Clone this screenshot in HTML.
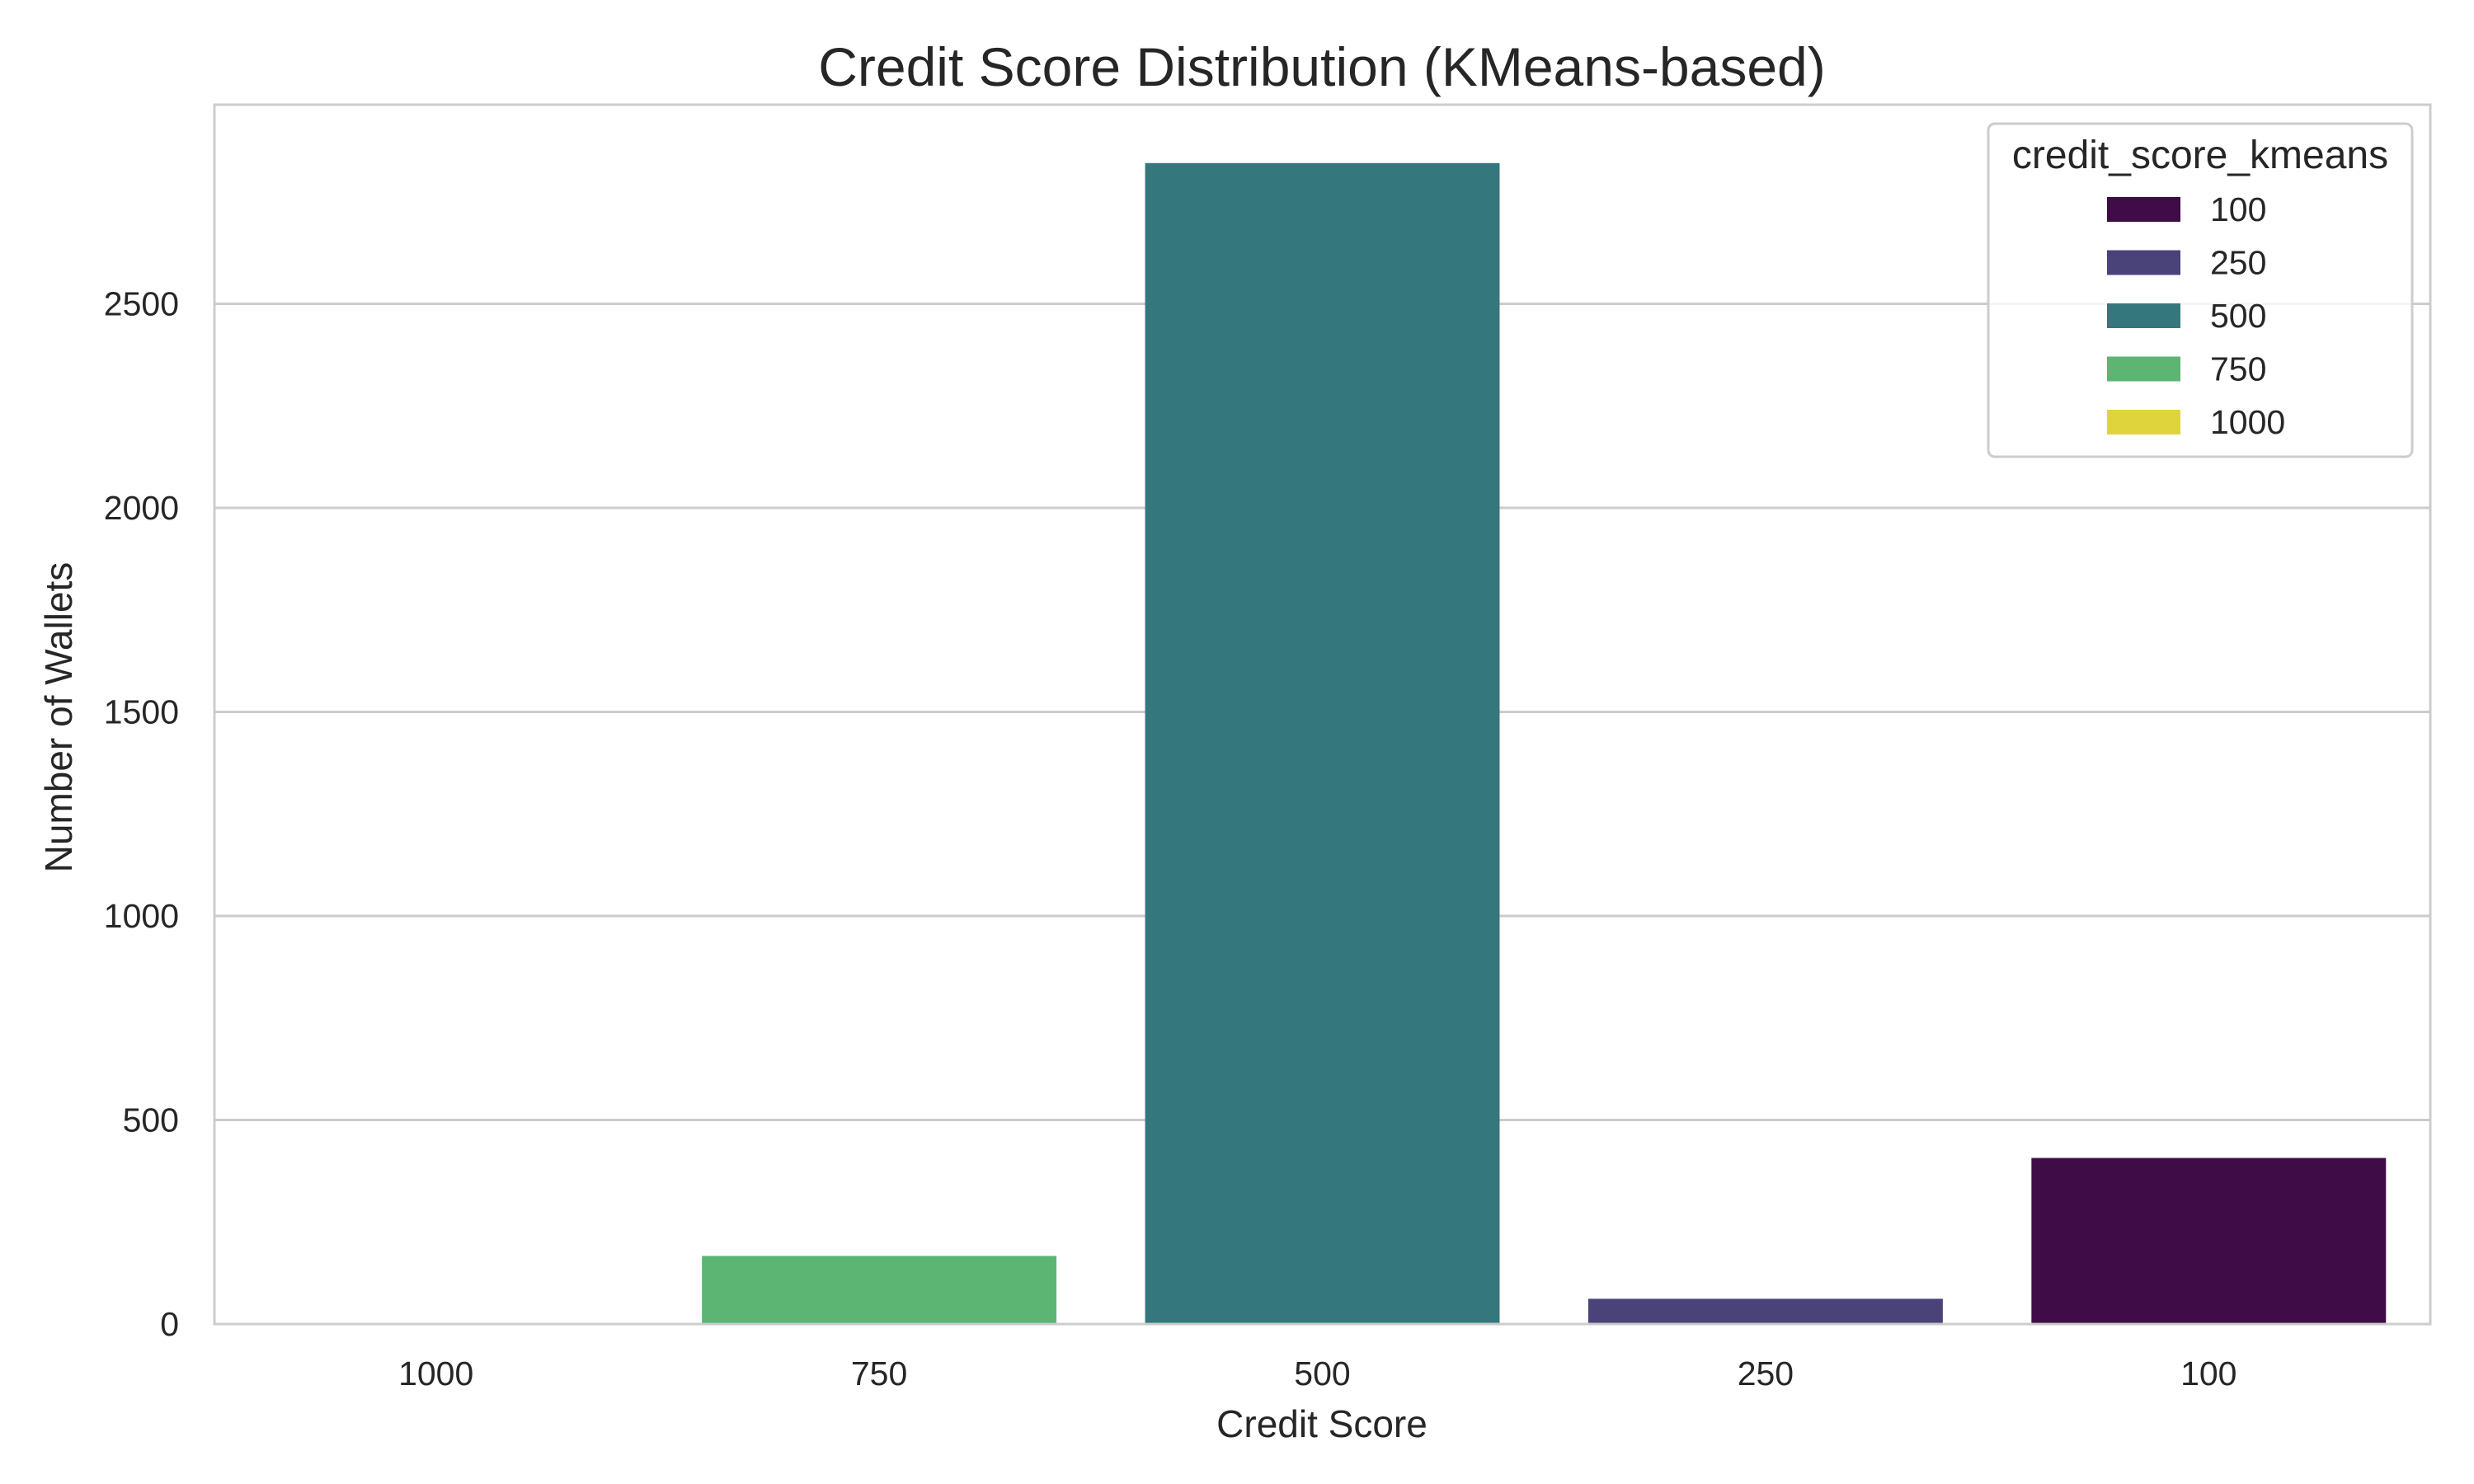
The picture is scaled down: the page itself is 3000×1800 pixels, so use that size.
<!DOCTYPE html>
<html><head><meta charset="utf-8"><style>
html,body{margin:0;padding:0;background:#fff;}
svg{display:block;font-family:"Liberation Sans",Arial,sans-serif;fill:#262626;}
</style></head><body>
<svg id="chart" width="3000" height="1800" viewBox="0 0 3000 1800">
<rect width="3000" height="1800" fill="#fff"/>
<text x="1603" y="104" font-size="66" text-anchor="middle">Credit Score Distribution (KMeans-based)</text>
<g id="grid"></g>
<g id="bars"></g>
<rect x="260" y="127" width="2687" height="1479" fill="none" stroke="#cccccc" stroke-width="3"/>
<g id="yticks"></g>
<g id="xticks"></g>
<text x="1603" y="1743" font-size="46" text-anchor="middle">Credit Score</text>
<text transform="translate(87,870) rotate(-90)" font-size="46" text-anchor="middle">Number of Wallets</text>
<g id="legend">
<rect x="2411" y="150" width="514" height="404" rx="8" fill="#fff" fill-opacity="0.8" stroke="#cccccc" stroke-width="3"/>
<text x="2668" y="204" font-size="48" text-anchor="middle">credit_score_kmeans</text>
</g>
</svg>
<script>
const categories = ["1000","750","500","250","100"];
const counts = [0, 167, 2845, 62, 407];
const barColors = ["#e0d43d","#5cb573","#34787e","#4a437a","#3f0c47"];
const yTicks = [0, 500, 1000, 1500, 2000, 2500];
const legendLabels = ["100","250","500","750","1000"];
const legendColors = ["#3f0c47","#4a437a","#34787e","#5cb573","#e0d43d"];

const NS = "http://www.w3.org/2000/svg";
const L = 260, R = 2947, T = 127, B = 1606, YMAX = 2988;
const y = v => B - (v / YMAX) * (B - T);
const band = (R - L) / categories.length;
const x = i => L + band * i + band / 2;
function mk(tag, attrs, parent) {
  const e = document.createElementNS(NS, tag);
  for (const k in attrs) e.setAttribute(k, attrs[k]);
  parent.appendChild(e);
  return e;
}
const grid = document.getElementById('grid');
const yt = document.getElementById('yticks');
yTicks.forEach(v => {
  const ln = mk('line', {x1: L, x2: R, y1: y(v), y2: y(v), stroke: '#cccccc', 'stroke-width': 3}, grid);
  
  
  const t = mk('text', {x: 217, y: y(v) + 14, 'font-size': 41, 'text-anchor': 'end'}, yt);
  t.textContent = v;
  
  
});
const bars = document.getElementById('bars');
const xt = document.getElementById('xticks');
categories.forEach((c, i) => {
  const w = band * 0.8;
  const r = mk('rect', {x: x(i) - w / 2, y: y(counts[i]), width: w, height: B - y(counts[i]), fill: barColors[i]}, bars);
  
  
  const t = mk('text', {x: x(i), y: 1680, 'font-size': 41, 'text-anchor': 'middle'}, xt);
  t.textContent = c;
  
  
});
const lg = document.getElementById('legend');
legendLabels.forEach((lab, i) => {
  const cy = 254 + i * 64.5;
  const p = mk('rect', {x: 2555, y: cy - 15, width: 89, height: 30, fill: legendColors[i]}, lg);
  
  
  const t = mk('text', {x: 2680, y: cy + 14, 'font-size': 41}, lg);
  t.textContent = lab;
  
  
});
</script>
</body></html>
